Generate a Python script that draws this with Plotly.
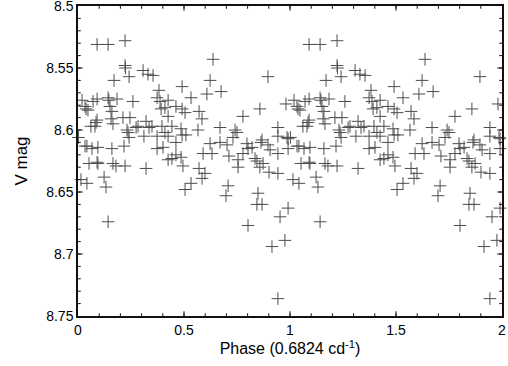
import plotly.graph_objects as go

# Phase-folded V light curve (one cycle; repeated for phase 1-2).
phase = [
    0.090, 0.142, 0.222, 0.222, 0.224, 0.307, 0.330, 0.354, 0.170, 0.241,
    0.019, 0.033, 0.038, 0.047, 0.071, 0.090, 0.142, 0.146, 0.184, 0.259,
    0.151, 0.160, 0.090, 0.085, 0.061, 0.080, 0.156, 0.165, 0.212, 0.245,
    0.231, 0.236, 0.274, 0.283, 0.321, 0.335, 0.349, 0.241, 0.311, 0.033,
    0.042, 0.066, 0.094, 0.160, 0.217, 0.052, 0.090, 0.094, 0.165, 0.179,
    0.222, 0.321, 0.014, 0.042, 0.123, 0.132, 0.142, 0.002, 0.382, 0.491,
    0.637, 0.623, 0.608, 0.675, 0.533, 0.373, 0.387, 0.425, 0.392, 0.410,
    0.462, 0.491, 0.505, 0.571, 0.425, 0.585, 0.396, 0.443, 0.486, 0.373,
    0.410, 0.425, 0.491, 0.509, 0.566, 0.670, 0.462, 0.373, 0.401, 0.623,
    0.632, 0.670, 0.703, 0.425, 0.443, 0.462, 0.486, 0.590, 0.712, 0.495,
    0.571, 0.599, 0.585, 0.533, 0.505, 0.708, 0.698, 0.896, 0.858, 0.778,
    0.981, 0.741, 0.750, 0.731, 0.943, 0.943, 0.986, 0.991, 0.797, 0.821,
    0.802, 0.863, 0.868, 0.896, 0.906, 0.943, 0.991, 0.778, 0.755, 0.835,
    0.844, 0.873, 0.858, 0.755, 0.901, 0.943, 0.849, 0.844, 0.868, 0.991,
    0.953, 0.802, 0.976, 0.915, 0.943,
]
vmag = [
    8.531, 8.531, 8.528, 8.548, 8.550, 8.552, 8.555, 8.556, 8.560, 8.557,
    8.576, 8.581, 8.583, 8.584, 8.577, 8.575, 8.574, 8.576, 8.575, 8.577,
    8.581, 8.585, 8.592, 8.594, 8.597, 8.597, 8.591, 8.595, 8.590, 8.590,
    8.600, 8.602, 8.598, 8.597, 8.593, 8.598, 8.597, 8.606, 8.605, 8.613,
    8.613, 8.615, 8.614, 8.615, 8.613, 8.627, 8.626, 8.627, 8.627, 8.629,
    8.629, 8.631, 8.640, 8.643, 8.638, 8.646, 8.674, 8.606, 8.568, 8.565,
    8.543, 8.560, 8.571, 8.569, 8.574, 8.574, 8.577, 8.576, 8.583, 8.582,
    8.581, 8.583, 8.586, 8.585, 8.589, 8.591, 8.597, 8.597, 8.599, 8.605,
    8.602, 8.605, 8.604, 8.604, 8.600, 8.598, 8.610, 8.615, 8.614, 8.611,
    8.619, 8.610, 8.612, 8.624, 8.623, 8.620, 8.622, 8.619, 8.621, 8.629,
    8.631, 8.635, 8.639, 8.643, 8.648, 8.645, 8.653, 8.557, 8.583, 8.589,
    8.579, 8.600, 8.602, 8.606, 8.598, 8.605, 8.606, 8.607, 8.611, 8.614,
    8.615, 8.610, 8.608, 8.612, 8.616, 8.619, 8.615, 8.619, 8.624, 8.623,
    8.625, 8.627, 8.630, 8.630, 8.634, 8.635, 8.651, 8.660, 8.660, 8.663,
    8.670, 8.677, 8.689, 8.694, 8.736,
]

x_ticks = [0, 0.5, 1, 1.5, 2]
x_labels = ["0", "0.5", "1", "1.5", "2"]
y_ticks = [8.5, 8.55, 8.6, 8.65, 8.7, 8.75]
y_labels = ["8.5", "8.55", "8.6", "8.65", "8.7", "8.75"]

# Two cycles: phase and phase + 1.
x_all = phase + [p + 1 for p in phase]
y_all = vmag + vmag

line_col = "#111111"

fig = go.Figure()
fig.add_trace(go.Scatter(
    x=x_all, y=y_all, mode="markers", cliponaxis=False,
    marker=dict(symbol="cross-thin", size=9, color="#4d4d4d",
                line=dict(width=1, color="#4d4d4d")),
))

axis_style = dict(
    showline=True, linecolor=line_col, linewidth=1.5, mirror="ticks",
    ticks="inside", ticklen=5, tickwidth=1.2, tickcolor=line_col, showgrid=False,
    zeroline=False, automargin=False, ticklabeloverflow="allow",
    tickfont=dict(size=14, color="black"),
)

fig.update_xaxes(
    range=[0, 2], tickvals=x_ticks, ticktext=x_labels,
    minor=dict(ticks="inside", ticklen=3, dtick=0.1, tickwidth=1, tickcolor=line_col),
    title=dict(text="Phase (0.6824 cd<sup>-1</sup>)", font=dict(size=16), standoff=4),
    **axis_style,
)
fig.update_yaxes(
    range=[8.75, 8.5], tickvals=y_ticks, ticktext=y_labels,
    minor=dict(ticks="inside", ticklen=3, dtick=0.01, tickwidth=1, tickcolor=line_col),
    title=dict(text="V mag", font=dict(size=17), standoff=14),
    **axis_style,
)

fig.update_layout(
    width=508, height=366,
    margin=dict(l=78, r=6, t=6, b=50),
    plot_bgcolor="white", paper_bgcolor="white",
    font=dict(family="Liberation Sans, Arial, sans-serif", color="black"),
    showlegend=False,
)

# Remove the default body margin and render crisp axis paths normally.
css_js = (
    "var s=document.createElement('style');"
    "s.textContent='body{margin:0 !important} .crisp{shape-rendering:auto !important}';"
    "document.head.appendChild(s);"
)
fig.write_html("out.html", config={"displayModeBar": False}, post_script=css_js)
